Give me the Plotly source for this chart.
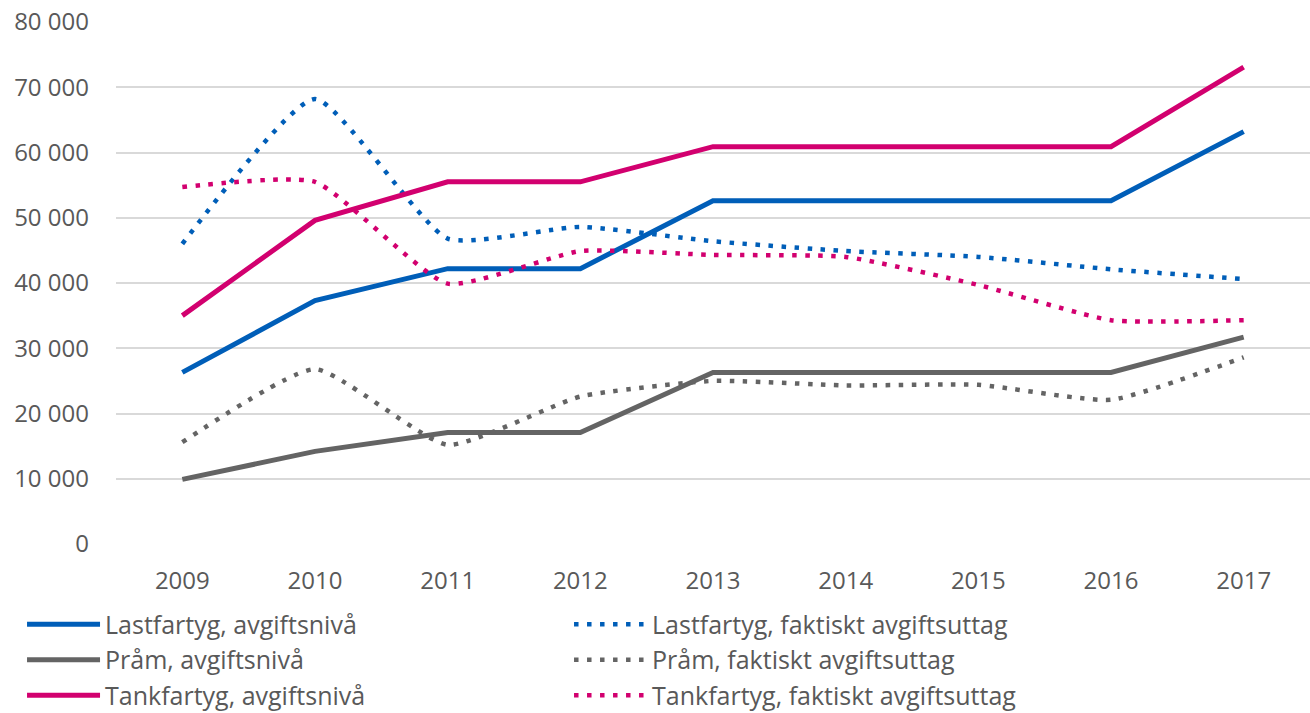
import plotly.graph_objects as go

years = ["2009", "2010", "2011", "2012", "2013", "2014", "2015", "2016", "2017"]

last_niva = [26300, 37300, 42200, 42200, 52600, 52600, 52600, 52600, 63200]
last_fakt = [46000, 68200, 46800, 48600, 46400, 44900, 44000, 42100, 40600]
pram_niva = [9900, 14200, 17100, 17100, 26300, 26300, 26300, 26300, 31700]
pram_fakt = [15600, 26800, 15200, 22600, 25000, 24300, 24400, 22100, 28600]
tank_niva = [35000, 49600, 55500, 55500, 60900, 60900, 60900, 60900, 73100]
tank_fakt = [54700, 55500, 39900, 44900, 44300, 44000, 39700, 34300, 34300]

names = [
    "Lastfartyg, avgiftsnivå", "Lastfartyg, faktiskt avgiftsuttag",
    "Pråm, avgiftsnivå", "Pråm, faktiskt avgiftsuttag",
    "Tankfartyg, avgiftsnivå", "Tankfartyg, faktiskt avgiftsuttag",
]
series = [last_niva, last_fakt, pram_niva, pram_fakt, tank_niva, tank_fakt]

BLUE = "#005EB8"
GRAY = "#646464"
PINK = "#D2006F"
colors = [BLUE, BLUE, GRAY, GRAY, PINK, PINK]

fig = go.Figure()
for i, (nm, vals, col) in enumerate(zip(names, series, colors)):
    dotted = i % 2 == 1
    fig.add_trace(go.Scatter(
        x=years, y=vals, name=nm, mode="lines",
        line=dict(color=col, width=4.5 if dotted else 5,
                  dash="4.5px,8.5px" if dotted else "solid",
                  shape="spline" if dotted else "linear",
                  smoothing=0.5),
    ))

FONT = "Open Sans, Liberation Sans, sans-serif"
fig.update_layout(
    width=1310, height=713,
    margin=dict(l=116, r=0, t=22, b=169, autoexpand=False),
    plot_bgcolor="white", paper_bgcolor="white",
    separators=", ",
    font=dict(family=FONT, color="#595959", size=24),
    showlegend=True,
    legend=dict(
        orientation="h",
        x=-0.0787, xanchor="left",
        y=-0.110, yanchor="top",
        entrywidth=459, entrywidthmode="pixels",
        font=dict(family=FONT, size=25, color="#595959"),
        itemwidth=73,
        tracegroupgap=0,
    ),
)
fig.update_xaxes(
    type="category", range=[-0.5, 8.5], automargin=False,
    showgrid=False, showline=False, zeroline=False,
    ticks="", ticklabelstandoff=20,
    tickfont=dict(family=FONT, size=24, color="#595959"),
)
fig.update_yaxes(
    range=[0, 80000], automargin=False,
    tickvals=[0, 10000, 20000, 30000, 40000, 50000, 60000, 70000, 80000],
    tickformat=",d",
    showgrid=True, gridcolor="#D9D9D9", gridwidth=1.5,
    zeroline=False, showline=False, ticks="",
    ticklabelstandoff=26,
    tickfont=dict(family=FONT, size=24, color="#595959"),
)

# remove the default 8px page margin so the figure fills the window exactly
fig.write_html("out.html", config={"displayModeBar": False},
               post_script="document.body.style.margin='0';")
